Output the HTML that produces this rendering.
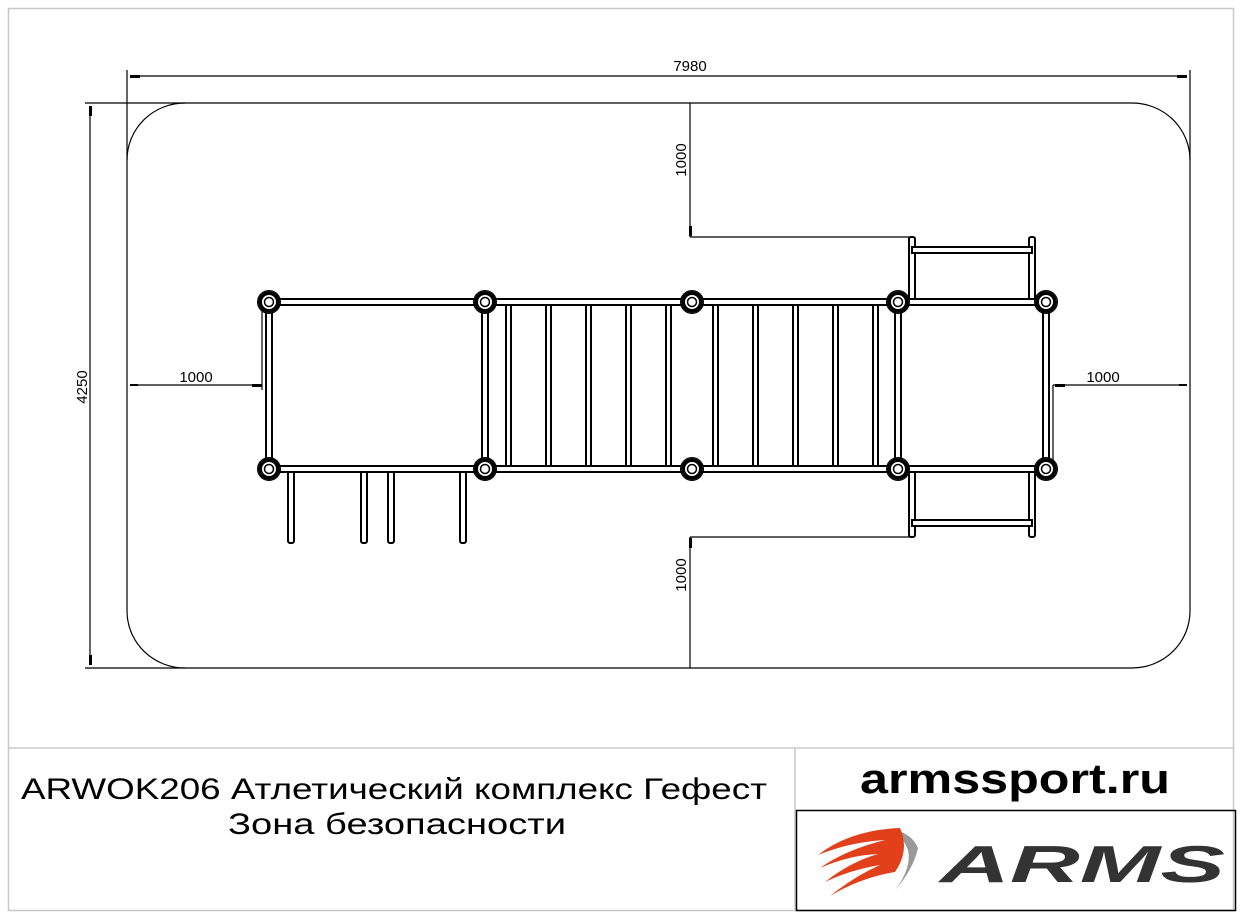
<!DOCTYPE html>
<html><head><meta charset="utf-8"><style>
html,body{margin:0;padding:0;background:#fff;width:1242px;height:915px;overflow:hidden}
svg{display:block}
text{font-family:"Liberation Sans","DejaVu Sans",sans-serif}
</style></head><body>
<svg width="1242" height="915" viewBox="0 0 1242 915" xmlns="http://www.w3.org/2000/svg">
<defs>
<g id="post"><circle r="9" fill="#fff" stroke="#000" stroke-width="4"/><circle r="4.5" fill="#fff" stroke="#000" stroke-width="1.5"/><circle r="11.5" fill="none" stroke="#000" stroke-width="1"/></g>
</defs>
<!-- frame -->
<rect x="8.5" y="8.5" width="1225" height="902" fill="none" stroke="#c8c8c8" stroke-width="1.5"/>
<line x1="8" y1="748" x2="1234" y2="748" stroke="#c8c8c8" stroke-width="1.5"/>
<line x1="795" y1="748" x2="795" y2="910" stroke="#c8c8c8" stroke-width="1.5"/>
<rect x="796.5" y="810.5" width="439" height="100" fill="none" stroke="#000" stroke-width="1.5"/>

<g stroke="#000" stroke-width="1.2" fill="none">
<path d="M185,103 H1132 A58,57 0 0 1 1190,160 V611 A58,57 0 0 1 1132,668 H185 A58,57 0 0 1 127,611 V160 A58,57 0 0 1 185,103 Z"/>
<line x1="127" y1="70" x2="127" y2="160"/><line x1="1190" y1="70" x2="1190" y2="160"/>
<line x1="130" y1="76" x2="1187" y2="76"/>
<line x1="85" y1="103" x2="185" y2="103"/><line x1="85" y1="668" x2="185" y2="668"/>
<line x1="90" y1="106" x2="90" y2="665"/>
<line x1="690" y1="103" x2="690" y2="237"/><line x1="690" y1="237" x2="912" y2="237"/>
<line x1="690" y1="537" x2="690" y2="668"/><line x1="690" y1="537" x2="912" y2="537"/>
<line x1="130" y1="385" x2="262" y2="385"/><line x1="262" y1="305" x2="262" y2="390"/>
<line x1="1053" y1="385" x2="1187" y2="385"/><line x1="1053" y1="385" x2="1053" y2="469"/>
</g>
<g fill="#000">
<rect x="130" y="75" width="10" height="3"/><rect x="1177" y="75" width="10" height="3"/>
<rect x="89" y="106" width="3" height="10"/><rect x="89" y="655" width="3" height="10"/>
<rect x="252" y="384" width="10" height="3"/><rect x="1055" y="384" width="10" height="3"/>
<rect x="130" y="384" width="8" height="2"/><rect x="1179" y="384" width="8" height="2"/>
<rect x="689" y="226" width="3" height="10"/><rect x="689" y="538" width="3" height="10"/>
</g>
<g font-size="15" fill="#000">
<text x="690" y="71" text-anchor="middle">7980</text>
<text x="196" y="382" text-anchor="middle">1000</text>
<text x="1103" y="382" text-anchor="middle">1000</text>
<text transform="translate(87,387) rotate(-90)" text-anchor="middle">4250</text>
<text transform="translate(686,160) rotate(-90)" text-anchor="middle">1000</text>
<text transform="translate(686,575) rotate(-90)" text-anchor="middle">1000</text>
</g>

<g fill="#fff" stroke="#000" stroke-width="2">
<rect x="288" y="470" width="6" height="73" rx="2"/>
<rect x="361" y="470" width="6" height="73" rx="2"/>
<rect x="388" y="470" width="6" height="73" rx="2"/>
<rect x="460" y="470" width="6" height="73" rx="2"/>
<rect x="909" y="237" width="6" height="68" rx="2"/>
<rect x="1029" y="237" width="6" height="68" rx="2"/>
<rect x="912" y="247" width="120" height="6"/>
<rect x="909" y="467" width="6" height="70" rx="2"/>
<rect x="1029" y="467" width="6" height="70" rx="2"/>
<rect x="912" y="520" width="120" height="6"/>
<rect x="506" y="305" width="5" height="162"/><rect x="546" y="305" width="5" height="162"/>
<rect x="586" y="305" width="5" height="162"/><rect x="626" y="305" width="5" height="162"/>
<rect x="666" y="305" width="5" height="162"/>
<rect x="713" y="305" width="5" height="162"/><rect x="753" y="305" width="5" height="162"/>
<rect x="793" y="305" width="5" height="162"/><rect x="833" y="305" width="5" height="162"/>
<rect x="873" y="305" width="5" height="162"/>
<rect x="269" y="299" width="777" height="6"/>
<rect x="269" y="466" width="777" height="6"/>
<rect x="266" y="302" width="6" height="167"/>
<rect x="482" y="302" width="6" height="167"/>
<rect x="895" y="302" width="6" height="167"/>
<rect x="1043" y="302" width="6" height="167"/>
</g>
<g>
<use href="#post" x="269" y="302"/><use href="#post" x="485" y="302"/><use href="#post" x="692" y="302"/><use href="#post" x="898" y="302"/><use href="#post" x="1046" y="302"/>
<use href="#post" x="269" y="469"/><use href="#post" x="485" y="469"/><use href="#post" x="692" y="469"/><use href="#post" x="898" y="469"/><use href="#post" x="1046" y="469"/>
</g>

<text x="394" y="799" font-size="30" text-anchor="middle" textLength="746" lengthAdjust="spacingAndGlyphs">ARWOK206 Атлетический комплекс Гефест</text>
<text x="397" y="834" font-size="30" text-anchor="middle" textLength="338" lengthAdjust="spacingAndGlyphs">Зона безопасности</text>
<text x="1015" y="793" font-size="42" font-weight="bold" text-anchor="middle" textLength="310" lengthAdjust="spacingAndGlyphs">armssport.ru</text>

<g transform="translate(800,810)">
<path d="M95,20 Q112,24 118,38 Q113,60 95,80 Q112,58 108,40 Q103,28 95,20Z" fill="#999"/>
<path d="M18,45 Q50,20 100,18 Q110,40 95,62 Q60,68 30,86 Q55,66 80,55 Q50,60 25,72 Q50,52 78,44 Q50,45 20,58 Q45,40 85,30 Q50,32 18,45Z" fill="#e2401a"/>
<text x="140" y="72" font-size="52" font-weight="bold" font-style="italic" fill="#333" textLength="285" lengthAdjust="spacingAndGlyphs">ARMS</text>
</g>
</svg>
</body></html>
